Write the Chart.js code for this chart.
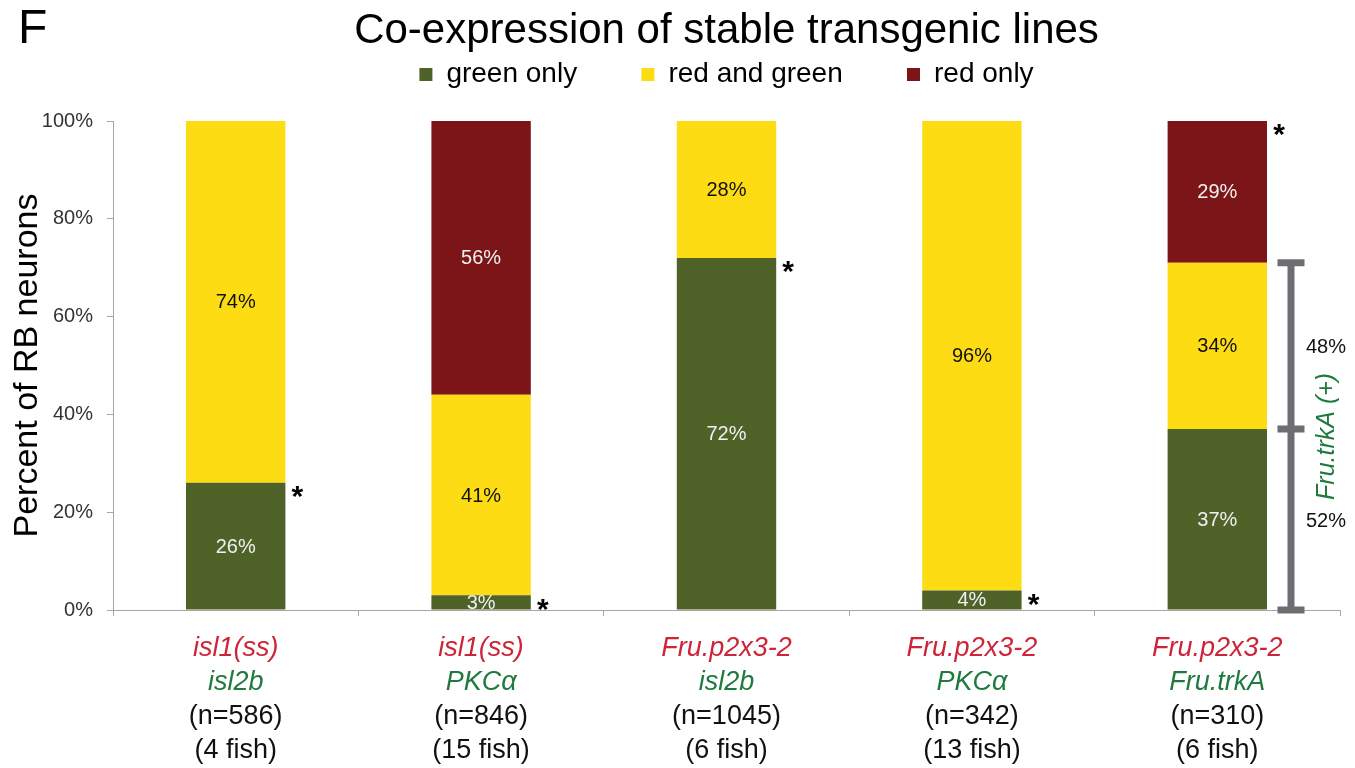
<!DOCTYPE html>
<html><head><meta charset="utf-8">
<script src="https://cdn.jsdelivr.net/npm/chart.js@4.4.1/dist/chart.umd.min.js"></script>
<style>html,body{margin:0;padding:0;background:#fff;}#wrap{width:1355px;height:768px;}</style>
</head><body><div id="wrap"><canvas id="c" width="1355" height="768"></canvas></div>
<script>
// ---- data ----
const categories = ['isl1(ss) isl2b', 'isl1(ss) PKCα', 'Fru.p2x3-2 isl2b', 'Fru.p2x3-2 PKCα', 'Fru.p2x3-2 Fru.trkA'];
const redLines = ['isl1(ss)', 'isl1(ss)', 'Fru.p2x3-2', 'Fru.p2x3-2', 'Fru.p2x3-2'];
const greenLines = ['isl2b', 'PKCα', 'isl2b', 'PKCα', 'Fru.trkA'];
const nLines = ['(n=586)', '(n=846)', '(n=1045)', '(n=342)', '(n=310)'];
const fishLines = ['(4 fish)', '(15 fish)', '(6 fish)', '(13 fish)', '(6 fish)'];
const seriesNames = ['green only', 'red and green', 'red only'];
const greenOnly = [26, 3, 72, 4, 37];
const redAndGreen = [74, 41, 28, 96, 34];
const redOnly = [0, 56, 0, 0, 29];
const yTicks = [0, 20, 40, 60, 80, 100];
const asteriskSeries = [0, 0, 0, 0, 2];
const bracketCategory = 4;
const bracketLabels = ['48%', '52%'];
const bracketTitle = 'Fru.trkA (+)';
const titleText = 'Co-expression of stable transgenic lines';
const yTitle = 'Percent of RB neurons';
const panelLetter = 'F';

// ---- styles ----
const FONT = "'Liberation Sans', Arial, Helvetica, sans-serif";
const GREEN = '#4f6228', YELLOW = '#fedc14', RED = '#7b1517';
const TXT_RED = '#cf2438', TXT_GREEN = '#1f7a3e';
const labelColors = ['#f0f0f0', '#111111', '#f0f0f0'];
Chart.defaults.font.family = FONT;

const annot = {
  id: 'annot',
  afterDatasetsDraw(chart) {
    const { ctx, chartArea } = chart;
    ctx.save();
    ctx.beginPath();
    ctx.rect(chartArea.left, chartArea.top, chartArea.right - chartArea.left, chartArea.bottom - chartArea.top);
    ctx.clip();
    ctx.font = '20px ' + FONT;
    ctx.textAlign = 'center';
    ctx.textBaseline = 'middle';
    chart.data.datasets.forEach((ds, di) => {
      const meta = chart.getDatasetMeta(di);
      meta.data.forEach((bar, i) => {
        const v = ds.data[i];
        if (!v) return;
        ctx.fillStyle = labelColors[di];
        ctx.fillText(v + '%', bar.x, (bar.y + bar.base) / 2 + 1);
      });
    });
    ctx.restore();
  },
  afterDraw(chart) {
    const { ctx } = chart;
    const xs = chart.scales.x, ys = chart.scales.y;
    ctx.save();
    // panel letter
    ctx.fillStyle = '#000';
    ctx.font = '48px ' + FONT;
    ctx.textAlign = 'left';
    ctx.textBaseline = 'alphabetic';
    ctx.fillText(panelLetter, 18, 43);
    // x labels
    ctx.textAlign = 'center';
    ctx.textBaseline = 'middle';
    categories.forEach((c, i) => {
      const x = xs.getPixelForValue(i);
      const y0 = xs.top + 38;
      ctx.font = 'italic 27px ' + FONT;
      ctx.fillStyle = TXT_RED;
      ctx.fillText(redLines[i], x, y0);
      ctx.fillStyle = TXT_GREEN;
      ctx.fillText(greenLines[i], x, y0 + 34.5);
      ctx.font = '27px ' + FONT;
      ctx.fillStyle = '#111';
      ctx.fillText(nLines[i], x, y0 + 69);
      ctx.fillText(fishLines[i], x, y0 + 102.5);
    });
    // asterisks
    ctx.font = 'bold 30px ' + FONT;
    ctx.fillStyle = '#000';
    ctx.textAlign = 'center';
    ctx.textBaseline = 'alphabetic';
    asteriskSeries.forEach((di, i) => {
      const bar = chart.getDatasetMeta(di).data[i];
      const x = bar.x + bar.width / 2 + 12;
      ctx.fillText('*', x, bar.y + 6 + 0.58 * 30);
    });
    // bracket
    const b = chart.getDatasetMeta(0).data[bracketCategory];
    const lx = b.x + b.width / 2 + 24;
    const g = greenOnly[bracketCategory];
    const yTop = ys.getPixelForValue(g + redAndGreen[bracketCategory]);
    const yMid = ys.getPixelForValue(g);
    const yBot = ys.getPixelForValue(0);
    ctx.strokeStyle = '#6d6e71';
    ctx.lineWidth = 7;
    ctx.beginPath();
    ctx.moveTo(lx, yTop); ctx.lineTo(lx, yBot);
    [yTop, yMid, yBot].forEach(y => { ctx.moveTo(lx - 13.5, y); ctx.lineTo(lx + 13.5, y); });
    ctx.stroke();
    ctx.font = '20px ' + FONT;
    ctx.fillStyle = '#111';
    ctx.textAlign = 'left';
    ctx.textBaseline = 'middle';
    ctx.fillText(bracketLabels[0], lx + 15, (yTop + yMid) / 2 + 2);
    ctx.fillText(bracketLabels[1], lx + 15, (yMid + yBot) / 2 + 2);
    ctx.translate(lx + 36, (yTop + yBot) / 2);
    ctx.rotate(-Math.PI / 2);
    ctx.font = 'italic 25px ' + FONT;
    ctx.fillStyle = TXT_GREEN;
    ctx.textAlign = 'center';
    ctx.fillText(bracketTitle, 0, 0);
    ctx.restore();
  }
};

new Chart(document.getElementById('c'), {
  type: 'bar',
  data: {
    labels: categories,
    datasets: [
      { label: seriesNames[0], data: greenOnly, backgroundColor: GREEN, borderWidth: 0 },
      { label: seriesNames[1], data: redAndGreen, backgroundColor: YELLOW, borderWidth: 0 },
      { label: seriesNames[2], data: redOnly, backgroundColor: RED, borderWidth: 0 }
    ]
  },
  options: {
    responsive: false,
    animation: false,
    devicePixelRatio: 1,
    layout: { padding: { left: 0, right: 15, top: 0, bottom: 0 } },
    datasets: { bar: { categoryPercentage: 1, barPercentage: 0.405 } },
    scales: {
      x: {
        stacked: true,
        grid: { offset: true, drawOnChartArea: false, drawTicks: true, tickLength: 6, color: '#a6a6a6' },
        border: { color: '#a6a6a6' },
        ticks: { display: false },
        afterFit(s) { s.height = 158; }
      },
      y: {
        stacked: true, min: 0, max: 100,
        afterBuildTicks(s) { s.ticks = yTicks.map(v => ({ value: v })); },
        ticks: { callback: v => v + '%', font: { size: 20 }, color: '#333', padding: 14 },
        grid: { drawOnChartArea: false, drawTicks: true, tickLength: 6, color: '#a6a6a6' },
        border: { color: '#a6a6a6' },
        title: { display: true, text: yTitle, font: { size: 34 }, color: '#000', padding: { top: 7, bottom: 0 } },
        afterFit(s) { s.width = 113; }
      }
    },
    plugins: {
      title: { display: true, text: titleText, fullSize: false, color: '#000',
               font: { size: 42, weight: 'normal', lineHeight: 1.2 }, padding: { top: 6, bottom: 2 } },
      legend: {
        weight: 1800, fullSize: false,
        labels: {
          boxWidth: 13, boxHeight: 13, padding: 2, color: '#000', font: { size: 28 },
          generateLabels(chart) {
            const items = Chart.defaults.plugins.legend.labels.generateLabels(chart);
            items.forEach((it, i) => { if (i < items.length - 1) it.text = it.text + '        '; });
            return items;
          }
        }
      },
      subtitle: { display: true, text: '', fullSize: false, font: { size: 10, lineHeight: 1 }, padding: { top: 12.6, bottom: 0 } },
      tooltip: { enabled: false }
    }
  },
  plugins: [annot]
});
</script>
</body></html>
